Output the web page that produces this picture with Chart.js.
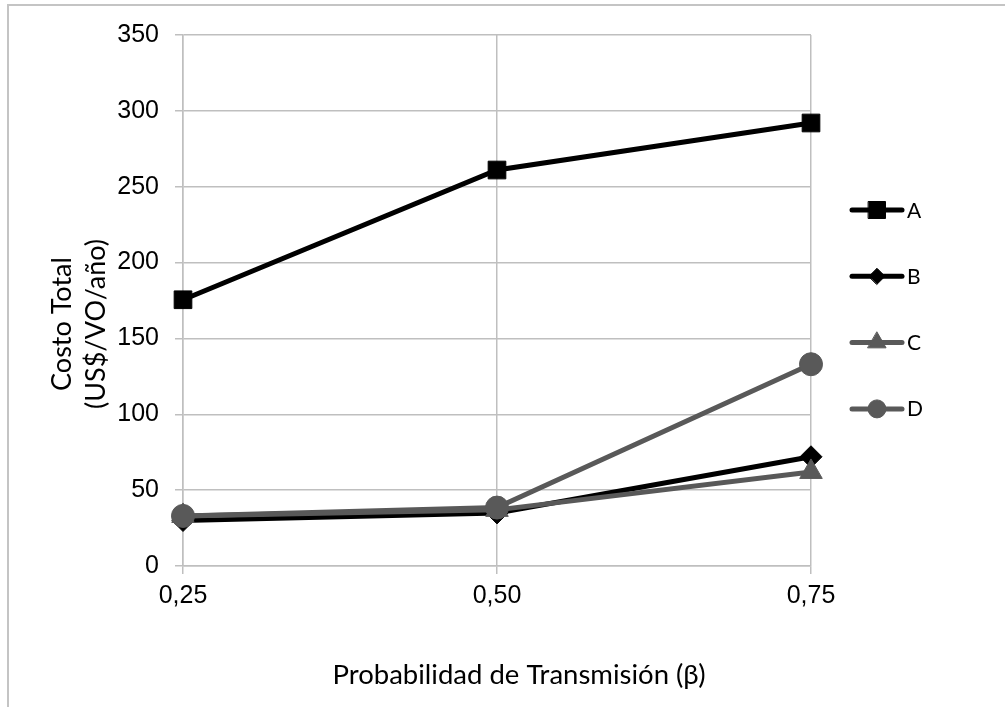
<!DOCTYPE html>
<html>
<head>
<meta charset="utf-8">
<script src="https://cdn.jsdelivr.net/npm/chart.js@4.4.1/dist/chart.umd.min.js"></script>
<style>
  html, body { margin: 0; padding: 0; background: #ffffff; }
  #wrap { position: relative; width: 1005px; height: 707px; overflow: hidden; }
  #frame { position: absolute; left: 7px; top: 4px; right: -10px; bottom: -10px;
           border-left: 2px solid #c4c4c4; border-top: 2px solid #c4c4c4; }
  canvas { position: absolute; left: 0; top: 0; }
</style>
</head>
<body>
<div id="wrap">
  <div id="frame"></div>
  <canvas id="chart" width="1005" height="707"></canvas>
</div>
<script>
// Transmission probability categories (x axis)
const categories = ['0,25', '0,50', '0,75'];

// Total cost per scenario (US$/VO/año)
const seriesNames = ['A', 'B', 'C', 'D'];
const valuesA = [175.5, 261, 292];
const valuesB = [30, 35, 72];
const valuesC = [33, 37, 62];
const valuesD = [33, 38.5, 133];

// Value axis ticks
const yMin = 0;
const yMax = 350;
const yStep = 50;

const xTitle = 'Probabilidad de Transmisión (β)';
const yTitle = ['Costo Total', '(US$/VO/año)'];

const BLACK = '#000000';
const GRAY = '#595959';
const GRID = '#bfbfbf';

function series(label, data, color, style, radius, order) {
  return {
    label, data,
    borderColor: color,
    backgroundColor: color,
    borderWidth: 5,
    tension: 0,
    pointStyle: style,
    pointRadius: radius,
    pointHoverRadius: radius,
    pointBorderWidth: 1,
    pointBorderColor: color,
    pointBackgroundColor: color,
    order
  };
}

// Legend at the right: line segment with the series marker, then the name
const sideLegend = {
  id: 'sideLegend',
  afterDraw(chart) {
    const ctx = chart.ctx;
    const sizes = { rect: 12, rectRot: 8, triangle: 10.5, circle: 9 };
    ctx.save();
    chart.data.datasets.forEach((ds, i) => {
      const y = 210 + i * 66.3;
      ctx.strokeStyle = ds.borderColor;
      ctx.lineWidth = 5;
      ctx.lineCap = 'round';
      ctx.beginPath();
      ctx.moveTo(852, y);
      ctx.lineTo(902, y);
      ctx.stroke();
      const opts = { pointStyle: ds.pointStyle, radius: sizes[ds.pointStyle], borderWidth: 1, rotation: 0 };
      ctx.fillStyle = ds.backgroundColor;
      ctx.lineWidth = 1;
      Chart.helpers.drawPoint(ctx, opts, 877, y);
      ctx.fillStyle = '#000000';
      ctx.font = '21px Lato';
      ctx.textAlign = 'left';
      ctx.textBaseline = 'alphabetic';
      ctx.fillText(ds.label, 907, y + 7.5);
    });
    ctx.restore();
  }
};

// Axis titles
const axisTitles = {
  id: 'axisTitles',
  afterDraw(chart) {
    const ctx = chart.ctx;
    ctx.save();
    ctx.fillStyle = '#000000';
    ctx.textAlign = 'center';
    ctx.textBaseline = 'alphabetic';
    ctx.font = '27.5px Lato';
    ctx.fillText(xTitle, 519, 684);
    ctx.font = '27px Lato';
    ctx.translate(0, 324);
    ctx.rotate(-Math.PI / 2);
    ctx.fillText(yTitle[0], 0, 71);
    ctx.fillText(yTitle[1], 0, 105);
    ctx.restore();
  }
};

new Chart(document.getElementById('chart'), {
  type: 'line',
  data: {
    labels: categories,
    datasets: [
      series(seriesNames[0], valuesA, BLACK, 'rect', 12.5, 4),
      series(seriesNames[1], valuesB, BLACK, 'rectRot', 11, 3),
      series(seriesNames[2], valuesC, GRAY, 'triangle', 13, 2),
      series(seriesNames[3], valuesD, GRAY, 'circle', 11.5, 1)
    ]
  },
  options: {
    responsive: false,
    animation: false,
    devicePixelRatio: 1,
    layout: { padding: { left: 0, top: 35, right: 194, bottom: 0 } },
    plugins: {
      legend: { display: false },
      tooltip: { enabled: false },
      title: { display: false }
    },
    scales: {
      x: {
        type: 'category',
        offset: false,
        grid: { color: GRID, lineWidth: 1.5, tickLength: 8, drawTicks: true },
        border: { color: GRID, width: 1.5 },
        ticks: {
          color: '#000000',
          font: { family: 'Liberation Sans', size: 25 },
          padding: 7,
          maxRotation: 0
        },
        afterFit(scale) { scale.height = 141; }
      },
      y: {
        min: yMin,
        max: yMax,
        grid: { color: GRID, lineWidth: 1.5, tickLength: 8 },
        border: { color: GRID, width: 1.5 },
        ticks: {
          stepSize: yStep,
          color: '#000000',
          font: { family: 'Liberation Sans', size: 25 },
          padding: 16
        },
        afterFit(scale) { scale.width = 183; }
      }
    }
  },
  plugins: [sideLegend, axisTitles]
});
</script>
</body>
</html>
